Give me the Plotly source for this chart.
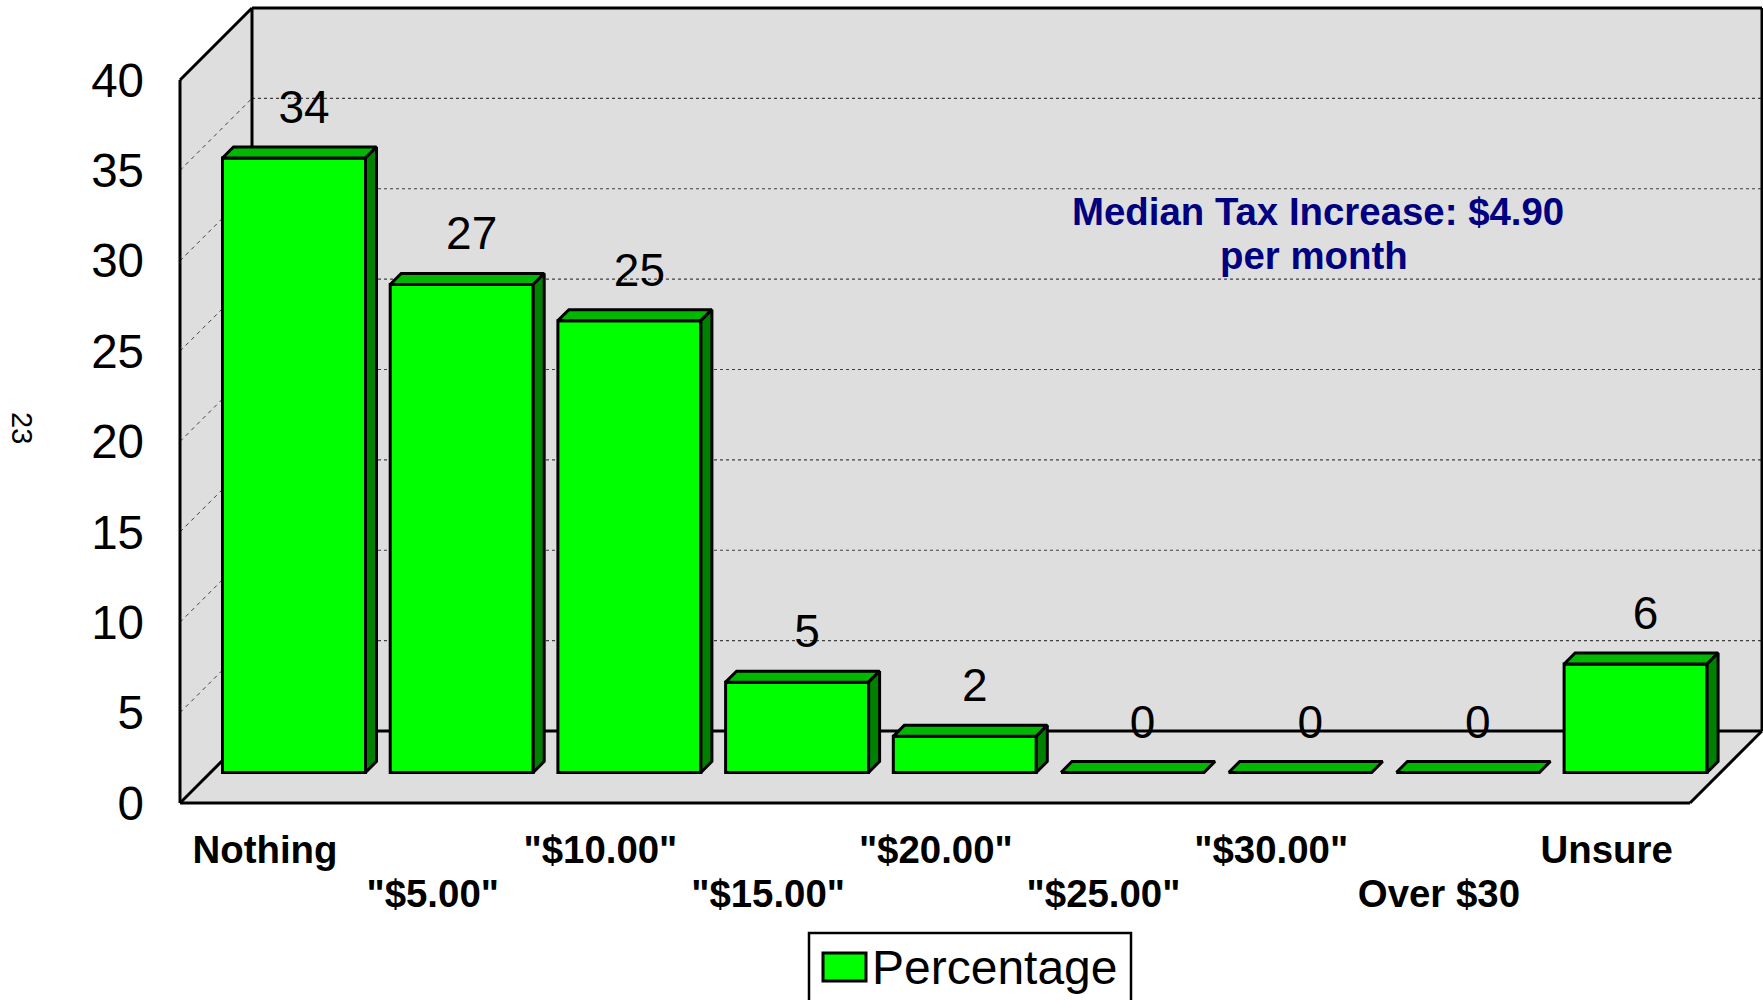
import plotly.graph_objects as go

categories = ["Nothing", '"$5.00"', '"$10.00"', '"$15.00"', '"$20.00"', '"$25.00"', '"$30.00"', "Over $30", "Unsure"]
values = [34, 27, 25, 5, 2, 0, 0, 0, 6]
y_ticks = [0, 5, 10, 15, 20, 25, 30, 35, 40]
series_name = "Percentage"
note_lines = ["Median Tax Increase: $4.90", "per month"]
side_number = "23"

FONT = "Liberation Sans"
W, H = 1763, 1000
# plot area in pixels
L, R, T, B = 170, 1763, 0, 812
PX_Y = 18.075   # px per value unit
PX_X = 167.7    # px per category
ORIGIN_X = 294  # px of first bar centre
ORIGIN_Y = 803  # px of value 0 on the front edge

def ux(px):  # horizontal distance in px -> axis units
    return px / PX_X
def uy(px):
    return px / PX_Y

WALL_DX, WALL_DY = ux(72), uy(72)
FLOOR_DX, FLOOR_DY = ux(29), uy(30.5)
BAR_DX, BAR_DY = ux(11), uy(11)
BAR_W = ux(143)
X_FRONT_L = ux(180 - ORIGIN_X)
X_FRONT_R = ux(1690 - ORIGIN_X)
Y_MAX = max(y_ticks)
BLACK = "#000000"
WALL = "#DEDEDE"
GRID = "#404040"
OUTLINE = 3

def poly(pts):
    return "M" + "L".join(f"{x},{y}" for x, y in pts) + "Z"

xl, xr = X_FRONT_L, X_FRONT_R
bl = xl + WALL_DX
br = xr + WALL_DX
top = Y_MAX + WALL_DY

shapes = []
# walls
for pts in [
    [(xl, 0), (xl, Y_MAX), (bl, top), (bl, WALL_DY)],
    [(bl, WALL_DY), (bl, top), (br, top), (br, WALL_DY)],
    [(xl, 0), (bl, WALL_DY), (br, WALL_DY), (xr, 0)],
]:
    shapes.append(dict(type="path", path=poly(pts), xref="x", yref="y", fillcolor=WALL,
                       line=dict(width=0), layer="below"))
# grid
for t in y_ticks[1:-1]:
    shapes.append(dict(type="line", xref="x", yref="y", x0=bl, x1=br, y0=t + WALL_DY, y1=t + WALL_DY,
                       line=dict(color=GRID, width=1.2, dash="3px,3px"), layer="below"))
    shapes.append(dict(type="line", xref="x", yref="y", x0=xl, x1=bl, y0=t, y1=t + WALL_DY,
                       line=dict(color=GRID, width=1, dash="4px,4px"), layer="below"))
# frame
for (x0, y0, x1, y1) in [
    (xl, 0, xl, Y_MAX), (xl, Y_MAX, bl, top), (bl, top, br, top), (bl, top, bl, WALL_DY),
    (br, top, br, WALL_DY), (xl, 0, xr, 0), (xl, 0, bl, WALL_DY), (xr, 0, br, WALL_DY),
    (bl, WALL_DY, br, WALL_DY),
]:
    shapes.append(dict(type="line", xref="x", yref="y", x0=x0, x1=x1, y0=y0, y1=y1,
                       line=dict(color=BLACK, width=3), layer="below"))

# paper coordinates are relative to the plot area
def px(v): return (v - L) / (R - L)
def py(v): return 1 - (v - T) / (B - T)

# legend box and swatch
shapes.append(dict(type="rect", xref="paper", yref="paper", x0=px(809), x1=px(1131), y0=py(933), y1=py(1004),
                   fillcolor="#FFFFFF", line=dict(color=BLACK, width=2.5)))
shapes.append(dict(type="rect", xref="paper", yref="paper", x0=px(823), x1=px(866), y0=py(953), y1=py(981),
                   fillcolor="#00FF00", line=dict(color=BLACK, width=3)))

fig = go.Figure()
idx = list(range(len(values)))

fig.add_trace(go.Bar(x=idx, y=values, base=[FLOOR_DY] * len(values), width=BAR_W, name=series_name,
                     marker=dict(color="#00FF00", line=dict(color=BLACK, width=OUTLINE)), showlegend=False))

for i, v in zip(idx, values):
    x0, x1 = i - BAR_W / 2, i + BAR_W / 2
    y0, y1 = FLOOR_DY, FLOOR_DY + v
    fig.add_trace(go.Scatter(
        x=[x0, x0 + BAR_DX, x1 + BAR_DX, x1, x0],
        y=[y1, y1 + BAR_DY, y1 + BAR_DY, y1, y1],
        mode="lines", fill="toself", fillcolor="#00B800",
        line=dict(color=BLACK, width=OUTLINE), showlegend=False, hoverinfo="skip"))
    if v > 0:
        fig.add_trace(go.Scatter(
            x=[x1, x1 + BAR_DX, x1 + BAR_DX, x1, x1],
            y=[y0, y0 + BAR_DY, y1 + BAR_DY, y1, y0],
            mode="lines", fill="toself", fillcolor="#008000",
            line=dict(color=BLACK, width=OUTLINE), showlegend=False, hoverinfo="skip"))

fig.add_trace(go.Scatter(
    x=[i + ux(10) for i in idx], y=[v + FLOOR_DY + uy(46.5) for v in values],
    text=[str(v) for v in values], mode="text", textposition="middle center",
    textfont=dict(family=FONT, size=46, color=BLACK), showlegend=False, hoverinfo="skip", cliponaxis=False))

# invisible trace to activate the lower label axis
fig.add_trace(go.Scatter(x=idx, y=values, xaxis="x2", mode="none", showlegend=False, hoverinfo="skip"))

odd = idx[0::2]
even = idx[1::2]
tick_shift = FLOOR_DX
x_range = [(L - ORIGIN_X) / PX_X, (R - ORIGIN_X) / PX_X]
y_range = [(ORIGIN_Y - B) / PX_Y, (ORIGIN_Y - T) / PX_Y]

fig.update_layout(
    width=W, height=H, paper_bgcolor="#FFFFFF", plot_bgcolor="rgba(0,0,0,0)",
    margin=dict(l=L, r=W - R, t=T, b=H - B, pad=0),
    showlegend=False, shapes=shapes,
    font=dict(family=FONT, color=BLACK),
    xaxis=dict(range=x_range, showgrid=False, zeroline=False, showline=False, ticks="",
               tickmode="array", tickvals=[i - tick_shift for i in odd],
               ticktext=[f"<b>{categories[i]}</b>" for i in odd], tickangle=0,
               tickfont=dict(family=FONT, size=38.4, color=BLACK),
               ticklabelstandoff=12),
    xaxis2=dict(range=x_range, overlaying="x", side="bottom", anchor="y", showgrid=False, zeroline=False,
                showline=False, ticks="", tickmode="array", tickvals=[i - tick_shift for i in even],
                ticktext=[f"<b>{categories[i]}</b>" for i in even], tickangle=0,
                tickfont=dict(family=FONT, size=38.4, color=BLACK),
                ticklabelstandoff=56),
    yaxis=dict(range=y_range, showgrid=False, zeroline=False, showline=False, ticks="",
               tickmode="array", tickvals=y_ticks, ticktext=[str(t) for t in y_ticks],
               tickfont=dict(family=FONT, size=47.5, color=BLACK), ticklabelstandoff=25),
    annotations=[
        dict(xref="x", yref="y", x=(1318 - ORIGIN_X) / PX_X, y=(ORIGIN_Y - 211) / PX_Y,
             text=note_lines[0], showarrow=False,
             font=dict(family=FONT, size=38.4, color="#000080", weight="bold")),
        dict(xref="x", yref="y", x=(1314 - ORIGIN_X) / PX_X, y=(ORIGIN_Y - 255) / PX_Y,
             text=note_lines[1], showarrow=False,
             font=dict(family=FONT, size=38.4, color="#000080", weight="bold")),
        dict(xref="paper", yref="paper", x=px(870), y=py(967), xanchor="left", yanchor="middle",
             text=series_name, showarrow=False, font=dict(family=FONT, size=48, color=BLACK)),
        dict(xref="paper", yref="paper", x=px(4), y=py(428), text=side_number, textangle=90,
             showarrow=False, font=dict(family=FONT, size=29, color=BLACK)),
    ],
)

fig.write_html("out.html", config={"displayModeBar": False},
               post_script="document.body.style.margin='0';document.body.style.overflow='hidden';")
